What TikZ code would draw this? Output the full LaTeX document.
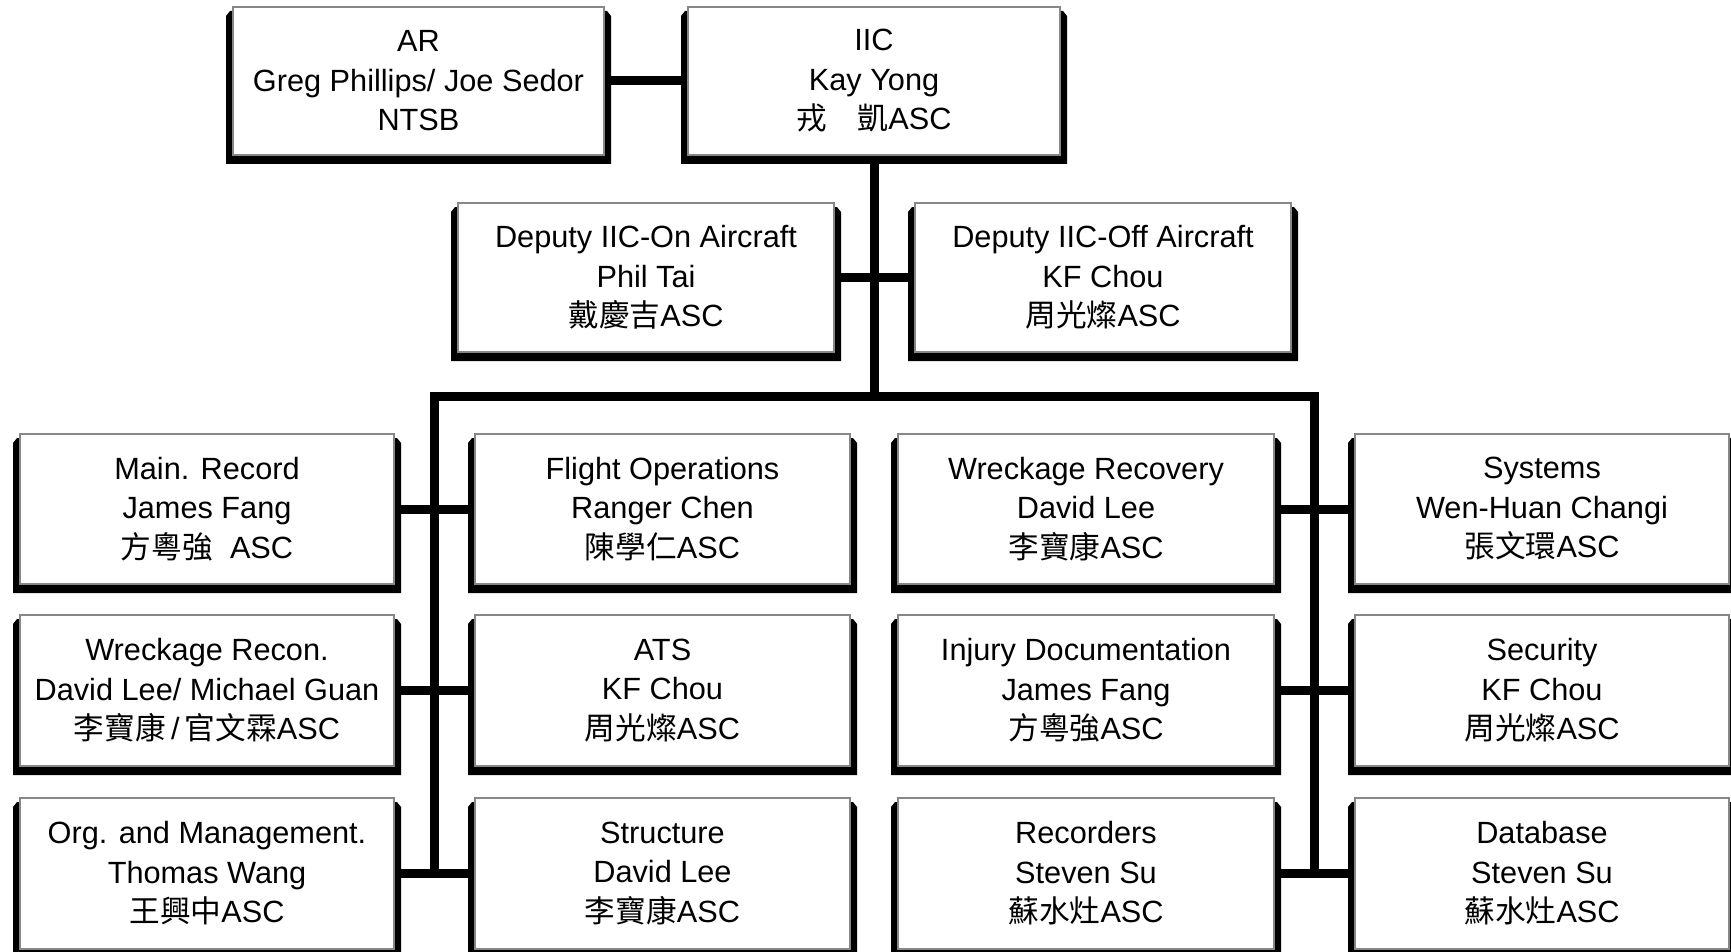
\documentclass[tikz,border=0pt]{standalone}
\usepackage{fontspec}
\setmainfont{Liberation Sans}
\newfontfamily\cjkfont{Noto Sans CJK TC}
\usetikzlibrary{calc}
\pgfdeclarelayer{background}
\pgfdeclarelayer{canvas}
\pgfsetlayers{canvas,background,main}
\newcommand\cj[1]{{\cjkfont #1}}
\newcommand\orgbox[6]{%
  \node[obox, minimum width={#4-#2}, minimum height={#5-#3}] (#1) at ({(#2+#4)/2},{(#3+#5)/2}) {#6};}
\tikzset{
  obox/.style={draw=black!47, line width=2.5pt, fill=white, outer sep=0pt, inner sep=0pt,
    align=center, font=\fontsize{30.7}{39.5}\selectfont},
  conn/.style={line width=9pt, draw=black, line join=miter},
}
\begin{document}
\begin{tikzpicture}[x=1pt,y=-1pt]
\useasboundingbox (0,0) rectangle (1731,952);
\begin{pgfonlayer}{canvas}
\fill[white] (0,0) rectangle (1731,952);
\end{pgfonlayer}
% top
\orgbox{ar}{233}{7}{604}{155}{AR\\Greg Phillips/ Joe Sedor\\NTSB}
\orgbox{iic}{688}{7}{1060}{155}{IIC\\Kay Yong\\\cj{戎　凱}ASC}
\orgbox{don}{458}{203}{834}{352}{Deputy IIC-On Aircraft\\Phil Tai\\\cj{戴慶吉}ASC}
\orgbox{doff}{915}{203}{1291}{352}{Deputy IIC-Off Aircraft\\KF Chou\\\cj{周光燦}ASC}
% row 1
\orgbox{c11}{20}{434}{394}{584}{Main. Record\\James Fang\\\cj{方粵強}~~ASC}
\orgbox{c12}{475}{434}{850}{584}{Flight Operations\\Ranger Chen\\\cj{陳學仁}ASC}
\orgbox{c13}{898}{434}{1274}{584}{Wreckage Recovery\\David Lee\\\cj{李寶康}ASC}
\orgbox{c14}{1355}{434}{1729}{584}{Systems\\Wen-Huan Changi\\\cj{張文環}ASC}
% row 2
\orgbox{c21}{20}{615}{394}{766}{Wreckage Recon.\\David Lee/ Michael Guan\\\cj{李寶康}\,/\,\cj{官文霖}ASC}
\orgbox{c22}{475}{615}{850}{766}{ATS\\KF Chou\\\cj{周光燦}ASC}
\orgbox{c23}{898}{615}{1274}{766}{Injury Documentation\\James Fang\\\cj{方粵強}ASC}
\orgbox{c24}{1355}{615}{1729}{766}{Security\\KF Chou\\\cj{周光燦}ASC}
% row 3
\orgbox{c31}{20}{798}{394}{949}{Org. and Management.\\Thomas Wang\\\cj{王興中}ASC}
\orgbox{c32}{475}{798}{850}{949}{Structure\\David Lee\\\cj{李寶康}ASC}
\orgbox{c33}{898}{798}{1274}{949}{Recorders\\Steven Su\\\cj{蘇水灶}ASC}
\orgbox{c34}{1355}{798}{1729}{949}{Database\\Steven Su\\\cj{蘇水灶}ASC}
\coordinate (barL) at (434.5,396);
\coordinate (barR) at (1314.5,396);
\begin{pgfonlayer}{background}
\foreach \n in {ar,iic,don,doff,c11,c12,c13,c14,c21,c22,c23,c24,c31,c32,c33,c34}{
  \fill[black] ($(\n.north west)+(-7,9)$) -- ($(\n.north west)+(-3,4)$) --
    ($(\n.north east)+(3,4)$) -- ($(\n.north east)+(7,9)$) --
    ($(\n.south east)+(7,9)$) -- ($(\n.south west)+(-7,9)$) -- cycle;
}
\draw[conn] (ar.east) -- (iic.west);
\draw[conn] (don.east) -- (doff.west);
\draw[conn] (iic.south) -- (iic.south |- barL);
\draw[conn] (barL |- c31.east) -- (barL) -- (barR) -- (barR |- c34.west);
\draw[conn] (c11.east) -- (c12.west);
\draw[conn] (c21.east) -- (c22.west);
\draw[conn] (c31.east) -- (c32.west);
\draw[conn] (c13.east) -- (c14.west);
\draw[conn] (c23.east) -- (c24.west);
\draw[conn] (c33.east) -- (c34.west);
\end{pgfonlayer}
\end{tikzpicture}
\end{document}
